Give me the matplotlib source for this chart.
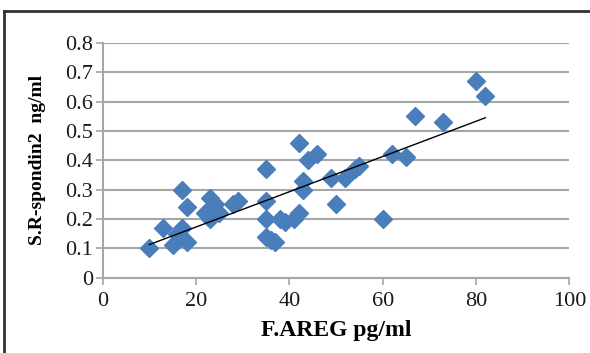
import matplotlib
matplotlib.use("Agg")
import matplotlib.pyplot as plt
from matplotlib.lines import Line2D
import numpy as np

plt.rcParams['font.family'] = ['Liberation Serif', 'DejaVu Serif']

# Data
areg = [10, 13, 15, 16, 17, 17, 18, 18, 22, 23, 23, 24, 25, 28, 29,
        35, 35, 35, 35, 36, 37, 38, 39, 41, 42, 42, 43, 43, 44, 46,
        49, 50, 52, 54, 55, 60, 62, 65, 67, 73, 80, 82]
rspondin = [0.10, 0.17, 0.11, 0.15, 0.17, 0.30, 0.12, 0.24, 0.22, 0.27, 0.20, 0.25, 0.22, 0.25, 0.26,
            0.37, 0.26, 0.20, 0.14, 0.13, 0.12, 0.20, 0.19, 0.20, 0.22, 0.46, 0.33, 0.30, 0.40, 0.42,
            0.34, 0.25, 0.34, 0.37, 0.38, 0.20, 0.42, 0.41, 0.55, 0.53, 0.67, 0.62]
x_ticks = [0, 20, 40, 60, 80, 100]
y_ticks = [0, 0.1, 0.2, 0.3, 0.4, 0.5, 0.6, 0.7, 0.8]
y_ticklabels = ['0', '0.1', '0.2', '0.3', '0.4', '0.5', '0.6', '0.7', '0.8']

fig = plt.figure(figsize=(5.9, 3.53), dpi=100)
ax = fig.add_axes([0.174, 0.2133, 0.791, 0.665])

x = np.array(areg)
y = np.array(rspondin)
slope, intercept = np.polyfit(x, y, 1)
xl = np.array([x.min(), x.max()])

ax.plot(x, y, linestyle='none', marker='D', markersize=9.5,
        color='#4a7ebb', markeredgecolor='#4a7ebb', zorder=3)
ax.plot(xl, slope * xl + intercept, color='black', linewidth=1.0, zorder=4)

ax.set_xlim(0, 100)
ax.set_ylim(0, 0.8)
ax.set_xticks(x_ticks)
ax.set_yticks(y_ticks)
ax.set_yticklabels(y_ticklabels)
ax.grid(axis='y', color='#a6a6a6', linewidth=1.5)
ax.set_axisbelow(True)
for s in ['top', 'right']:
    ax.spines[s].set_visible(False)
for s in ['left', 'bottom']:
    ax.spines[s].set_color('#a6a6a6')
    ax.spines[s].set_linewidth(1.5)
ax.tick_params(axis='both', colors='#a6a6a6', labelcolor='#1a1a1a',
               labelsize=16, length=5, width=1.2)
ax.tick_params(axis='x', pad=5)
ax.tick_params(axis='y', pad=2)

ax.set_xlabel('F.AREG pg/ml', fontsize=17, fontweight='bold', labelpad=7)
ax.set_ylabel('S.R-spondin2  ng/ml', fontsize=14, fontweight='bold', labelpad=14)

# outer frame (top and left edges)
fig.add_artist(Line2D([0.007, 1.0], [1 - 11/353, 1 - 11/353], transform=fig.transFigure,
                      color='#333333', linewidth=2))
fig.add_artist(Line2D([0.007, 0.007], [0.0, 1 - 11/353], transform=fig.transFigure,
                      color='#333333', linewidth=2))

fig.savefig('out.png', dpi=100)
